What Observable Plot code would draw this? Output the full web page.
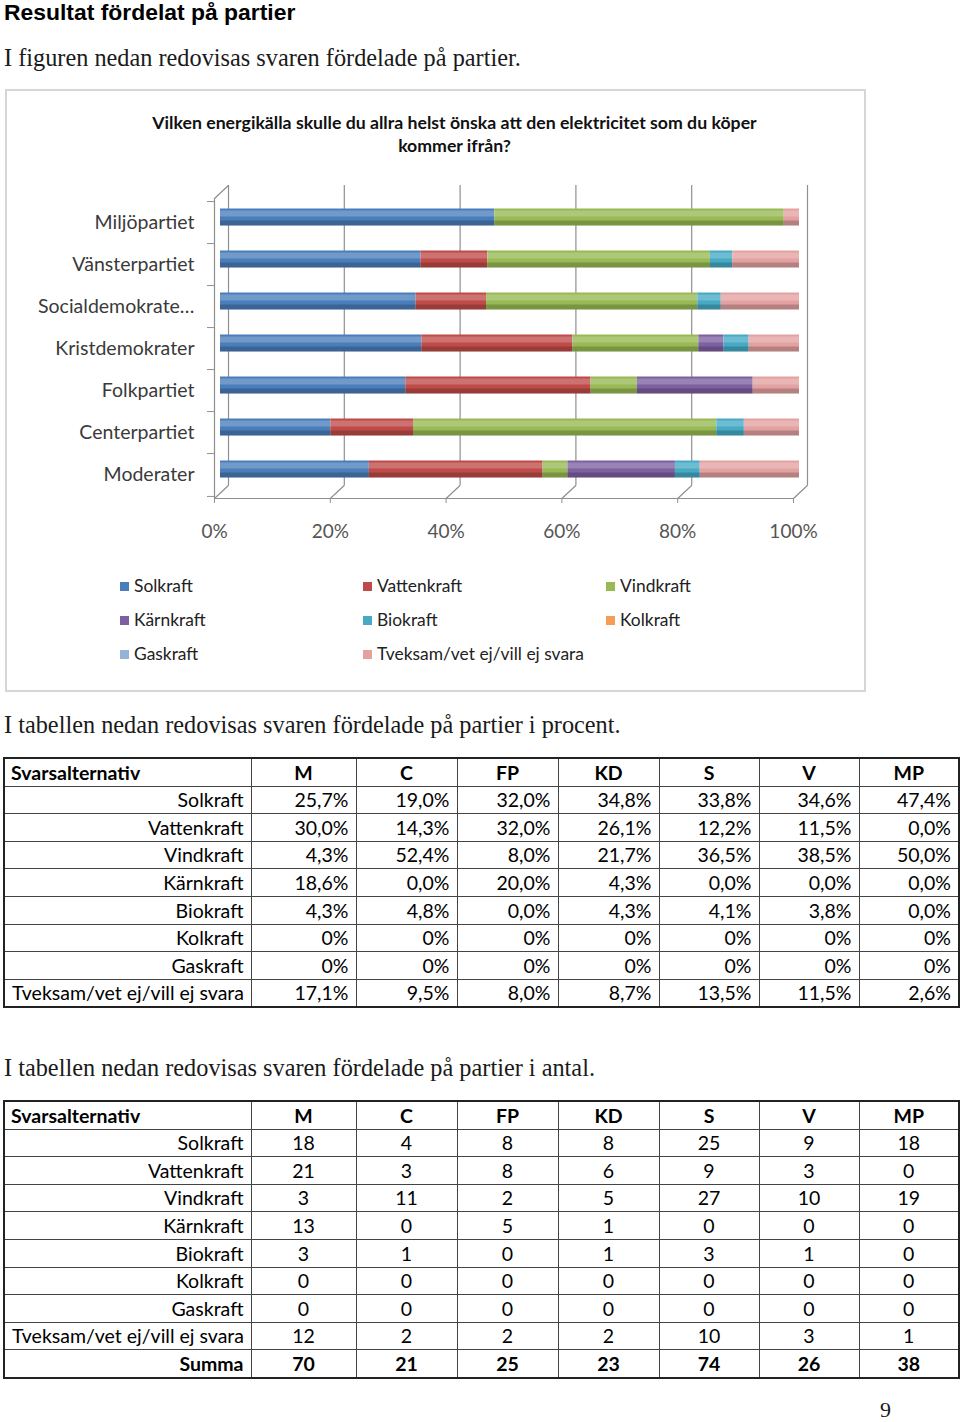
<!DOCTYPE html>
<html><head><meta charset="utf-8">
<script src="https://cdn.jsdelivr.net/npm/d3@7"></script>
<script src="https://cdn.jsdelivr.net/npm/@observablehq/plot@0.6"></script>
<style>
body{margin:0;width:960px;height:1422px;position:relative;background:#fff;overflow:hidden;color:#000}
h1{position:absolute;left:4px;top:0px;margin:0;font:bold 22.9px "Liberation Sans",Arial,sans-serif;line-height:24px;white-space:nowrap}
.serif{position:absolute;left:4px;font:24.3px "Liberation Serif",serif;line-height:28px;color:#1a1a1a;white-space:nowrap}
#box{position:absolute;left:5px;top:89px;width:857px;height:599px;border:2px solid #d6d6d6;}
#ctitle{position:absolute;left:0;top:111px;width:909px;text-align:center;font:bold 17.7px Lato,sans-serif;line-height:23px;color:#111}
#chart{position:absolute;left:0;top:170px}
#legend{position:absolute;left:0;top:0;font:17.4px Lato,sans-serif;color:#222}
.li{position:absolute;white-space:nowrap;line-height:20px}
.li i{display:inline-block;width:9px;height:9px;margin-right:5px;vertical-align:1px}
table{position:absolute;left:3px;border-collapse:collapse;table-layout:fixed;width:955px;font:19.5px Lato,sans-serif;border:2px solid #222}
td{border:1px solid #444;height:26.6px;padding:0 7px;line-height:1;white-space:nowrap;overflow:hidden}
td.r{text-align:right}
td.c{text-align:center}
tr.h td{font-weight:bold;text-align:center}
tr.h td:first-child{text-align:left;padding-left:6px}
tr.s td{font-weight:bold}
</style></head>
<body>
<h1>Resultat fördelat på partier</h1>
<div class="serif" style="top:44px">I figuren nedan redovisas svaren fördelade på partier.</div>
<div id="box"></div>
<div id="ctitle">Vilken energikälla skulle du allra helst önska att den elektricitet som du köper<br>kommer ifrån?</div>
<div id="chart"></div>
<div id="legend"></div>
<div class="serif" style="top:711px">I tabellen nedan redovisas svaren fördelade på partier i procent.</div>
<div id="t1"></div>
<div class="serif" style="top:1054px">I tabellen nedan redovisas svaren fördelade på partier i antal.</div>
<div id="t2"></div>
<div class="serif" style="top:1396px;left:880px;font-size:22px">9</div>
<script>
// ---- data ----
const energies = ["Solkraft","Vattenkraft","Vindkraft","Kärnkraft","Biokraft","Kolkraft","Gaskraft","Tveksam/vet ej/vill ej svara"];
const energyColors = ["#4a7ebb","#be4b48","#98b954","#7d60a0","#46aac5","#f59d56","#95b3d7","#e3a2a1"];
const partyCodes = ["M","C","FP","KD","S","V","MP"];
const partyNames = ["Moderater","Centerpartiet","Folkpartiet","Kristdemokrater","Socialdemokrate…","Vänsterpartiet","Miljöpartiet"];

// counts (antal)
const countSolkraft    = [18, 4, 8, 8, 25, 9, 18];
const countVattenkraft = [21, 3, 8, 6, 9, 3, 0];
const countVindkraft   = [3, 11, 2, 5, 27, 10, 19];
const countKarnkraft   = [13, 0, 5, 1, 0, 0, 0];
const countBiokraft    = [3, 1, 0, 1, 3, 1, 0];
const countKolkraft    = [0, 0, 0, 0, 0, 0, 0];
const countGaskraft    = [0, 0, 0, 0, 0, 0, 0];
const countTveksam     = [12, 2, 2, 2, 10, 3, 1];
const countSumma       = [70, 21, 25, 23, 74, 26, 38];
const countRows = [countSolkraft,countVattenkraft,countVindkraft,countKarnkraft,countBiokraft,countKolkraft,countGaskraft,countTveksam];

// percent (procent) as printed
const pctSolkraft    = ["25,7%","19,0%","32,0%","34,8%","33,8%","34,6%","47,4%"];
const pctVattenkraft = ["30,0%","14,3%","32,0%","26,1%","12,2%","11,5%","0,0%"];
const pctVindkraft   = ["4,3%","52,4%","8,0%","21,7%","36,5%","38,5%","50,0%"];
const pctKarnkraft   = ["18,6%","0,0%","20,0%","4,3%","0,0%","0,0%","0,0%"];
const pctBiokraft    = ["4,3%","4,8%","0,0%","4,3%","4,1%","3,8%","0,0%"];
const pctKolkraft    = ["0%","0%","0%","0%","0%","0%","0%"];
const pctGaskraft    = ["0%","0%","0%","0%","0%","0%","0%"];
const pctTveksam     = ["17,1%","9,5%","8,0%","8,7%","13,5%","11,5%","2,6%"];
const pctRows = [pctSolkraft,pctVattenkraft,pctVindkraft,pctKarnkraft,pctBiokraft,pctKolkraft,pctGaskraft,pctTveksam];

const xTicks = [0, 0.2, 0.4, 0.6, 0.8, 1];

// ---- chart ----
const rows = [];
energies.forEach((e, i) => partyNames.forEach((p, j) => rows.push({energy: e, party: p, count: countRows[i][j]})));

const plotH = 300, nParty = partyNames.length, step = plotH / nParty;
const gridStroke = "#8f8f8f";
const barDy = -5.5, barDx = 6;

const chart = Plot.plot({
  width: 870, height: 380,
  marginLeft: 214, marginRight: 77, marginTop: 28, marginBottom: 52,
  style: {fontFamily: "Lato, sans-serif", fontSize: "19.5px", background: "transparent", overflow: "visible"},
  x: {domain: [0, 1], ticks: xTicks},
  y: {domain: partyNames.slice().reverse(), paddingInner: 0.6, paddingOuter: 0.3},
  color: {domain: energies, range: energyColors},
  marks: [
    Plot.ruleX(xTicks, {dx: 14, dy: -13, stroke: gridStroke, strokeWidth: 1.2}),
    Plot.vector(xTicks, {x: d => d, frameAnchor: "bottom", length: 19, rotate: 47, anchor: "start", shape: "spike", r: 0, fill: "none", stroke: gridStroke, strokeWidth: 1.2}),
    Plot.vector([0], {x: d => d, frameAnchor: "top", length: 19, rotate: 47, anchor: "start", shape: "spike", r: 0, fill: "none", stroke: gridStroke, strokeWidth: 1.2}),
    Plot.ruleX([0], {stroke: gridStroke, strokeWidth: 1.2}),
    Plot.frame({anchor: "bottom", stroke: gridStroke, strokeWidth: 1.2}),
    Plot.axisX({ticks: xTicks, tickFormat: d3.format(".0%"), tickSize: 5, tickPadding: 21, stroke: gridStroke, fill: "#555", label: null, fontSize: "19px"}),
    Plot.axisY({tickSize: 0, tickPadding: 20, label: null, fill: "#3a3a3a"}),
    Plot.axisY({text: null, tickSize: 7, dy: -step / 2, stroke: gridStroke, label: null}),
    Plot.axisY({ticks: [partyNames[0]], text: null, tickSize: 7, dy: step / 2, stroke: gridStroke, label: null}),
    Plot.barX(rows, Plot.stackX({offset: "normalize", order: energies, y: "party", x: "count", fill: "energy", dy: barDy, dx: barDx})),
    Plot.barX(partyNames, {x1: 0, x2: 1, y: d => d, fill: "white", fillOpacity: 0.22, insetTop: 2, insetBottom: 9, dy: barDy, dx: barDx}),
    Plot.barX(partyNames, {x1: 0, x2: 1, y: d => d, fill: "black", fillOpacity: 0.2, insetTop: 12, dy: barDy, dx: barDx})
  ]
});
document.getElementById("chart").appendChild(chart);

// legend (HTML, below the svg)
const legendPos = [[120,576],[363,576],[606,576],[120,610],[363,610],[606,610],[120,644],[363,644]];
const legend = document.getElementById("legend");
energies.forEach((e, i) => {
  const d = document.createElement("div");
  d.className = "li";
  d.style.left = legendPos[i][0] + "px";
  d.style.top = legendPos[i][1] + "px";
  d.innerHTML = `<i style="background:${energyColors[i]}"></i>${e}`;
  legend.appendChild(d);
});

// ---- tables ----
const colWidths = [247,105,101,101,101,100,100,100];
function makeTable(top, bodyRows, cls, summa) {
  let h = `<table style="top:${top}px"><colgroup>${colWidths.map(w => `<col style="width:${w}px">`).join("")}</colgroup>`;
  h += `<tr class="h"><td>Svarsalternativ</td>${partyCodes.map(c => `<td>${c}</td>`).join("")}</tr>`;
  bodyRows.forEach((r, i) => {
    h += `<tr><td class="r">${energies[i]}</td>${r.map(v => `<td class="${cls}">${v}</td>`).join("")}</tr>`;
  });
  if (summa) h += `<tr class="s"><td class="r">Summa</td>${summa.map(v => `<td class="${cls}">${v}</td>`).join("")}</tr>`;
  h += "</table>";
  return h;
}
document.getElementById("t1").innerHTML = makeTable(757, pctRows, "r");
document.getElementById("t2").innerHTML = makeTable(1100, countRows, "c", countSumma);
</script>
</body></html>
